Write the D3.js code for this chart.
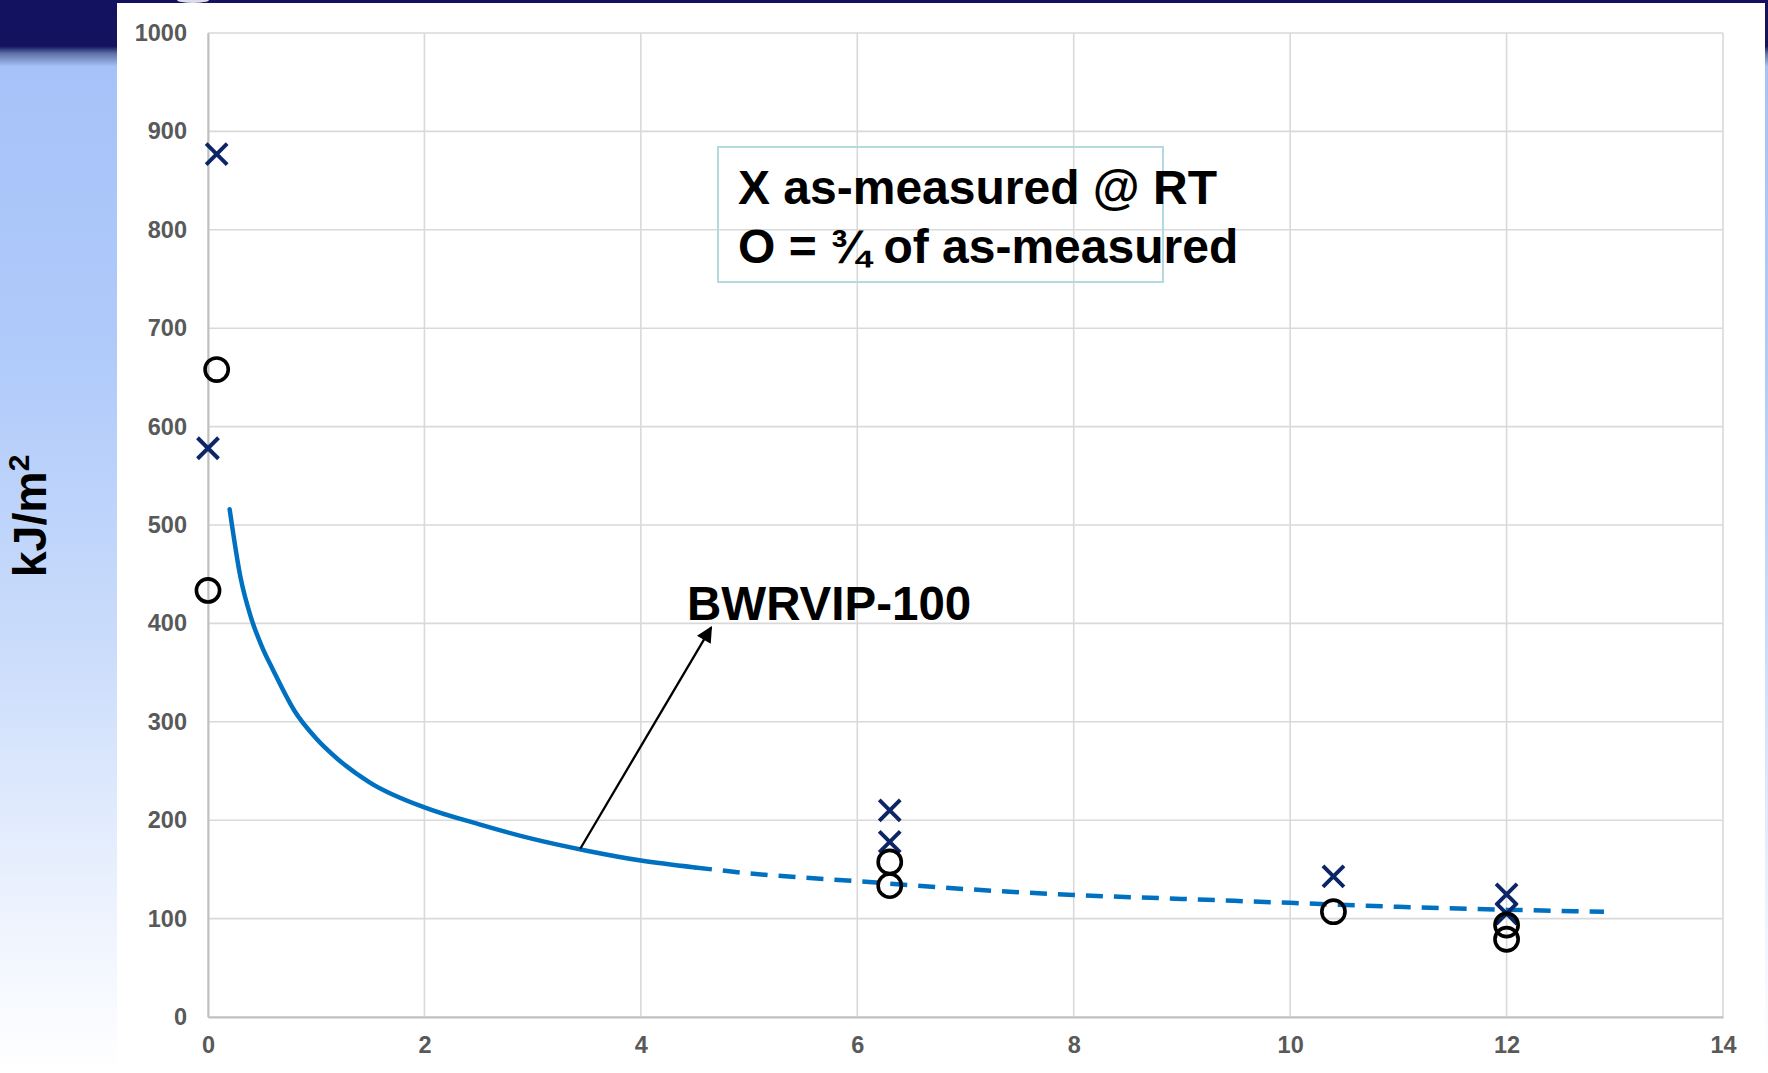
<!DOCTYPE html>
<html>
<head>
<meta charset="utf-8">
<script src="https://cdn.jsdelivr.net/npm/d3@7"></script>
<style>
  html, body { margin: 0; padding: 0; background: #ffffff; }
  svg { display: block; }
  text { font-family: "Liberation Sans", Arial, Helvetica, sans-serif; }
</style>
</head>
<body>
<svg id="chart" width="1768" height="1073"></svg>
<script>
// Axis ticks
const xTicks = [0, 2, 4, 6, 8, 10, 12, 14];
const yTicks = [0, 100, 200, 300, 400, 500, 600, 700, 800, 900, 1000];

// Measured toughness at room temperature (X markers): [neutron fluence, kJ/m2]
const asMeasured = [
  [0.08, 877], [0, 578],
  [6.3, 210], [6.3, 178],
  [10.4, 143],
  [12, 124.5], [12, 105]
];

// Three quarters of the measured values (O markers)
const threeQuarter = [
  [0.08, 658], [0, 433.5],
  [6.3, 157.5], [6.3, 133.5],
  [10.4, 107],
  [12, 93.5], [12, 79]
];

// BWRVIP-100 curve, solid over its fitted range
const curveSolid = [
  [0.2, 516], [0.3, 447], [0.4, 405], [0.5, 376], [0.6, 353], [0.8, 311],
  [1.0, 283], [1.2, 262], [1.5, 238], [2.0, 213], [2.5, 196], [3.0, 181],
  [3.5, 169], [4.0, 159], [4.5, 152]
];

// ...and extrapolated (dashed) beyond it
const curveDashed = [
  [4.5, 152], [5.0, 146], [6.0, 138], [7.0, 130], [8.0, 124], [9.0, 120],
  [10.0, 116], [11.0, 112], [12.0, 109], [12.9, 107]
];

// Callout arrow from the curve to its label
const arrowFrom = [3.44, 171];
const arrowTo = [4.65, 396];

const legendLines = ["X as-measured @ RT", "O = \u00BE of as-measured"];
const curveLabel = "BWRVIP-100";

const W = 1768, H = 1073;
const svg = d3.select("#chart");
const defs = svg.append("defs");

// Slide background: navy band over a pale blue wash that fades to white
const bg = defs.append("linearGradient")
  .attr("id", "slideBg").attr("x1", 0).attr("y1", 0).attr("x2", 0).attr("y2", 1);
[
  [0, "#121260"], [0.043, "#131360"], [0.05, "#5f72a8"], [0.062, "#a6c2f8"],
  [0.33, "#b0cafa"], [0.6, "#cadcfb"], [0.85, "#edf3fe"], [1, "#ffffff"]
].forEach(([o, c]) => bg.append("stop").attr("offset", o).attr("stop-color", c));

svg.append("rect").attr("width", W).attr("height", H).attr("fill", "url(#slideBg)");
svg.append("ellipse").attr("cx", 193).attr("cy", 0).attr("rx", 16).attr("ry", 3)
  .attr("fill", "#dcdcec");
svg.append("rect").attr("x", 117).attr("y", 3).attr("width", 1648).attr("height", H - 3)
  .attr("fill", "#ffffff");

const x = d3.scaleLinear().domain([0, 14]).range([208, 1723]);
const y = d3.scaleLinear().domain([0, 1000]).range([1017, 33]);

// Gridlines
const grid = svg.append("g");
grid.selectAll("line.h").data(yTicks).join("line")
  .attr("x1", x(0)).attr("x2", x(14))
  .attr("y1", d => y(d)).attr("y2", d => y(d))
  .attr("stroke", "#d9d9d9").attr("stroke-width", 1.6);
grid.selectAll("line.v").data(xTicks).join("line")
  .attr("y1", y(0)).attr("y2", y(1000))
  .attr("x1", d => x(d)).attr("x2", d => x(d))
  .attr("stroke", "#d9d9d9").attr("stroke-width", 1.6);

// Axes
const yAxis = svg.append("g").attr("transform", `translate(${x(0)},0)`)
  .call(d3.axisLeft(y).tickValues(yTicks).tickFormat(d3.format("d")).tickSize(0).tickPadding(21));
const xAxis = svg.append("g").attr("transform", `translate(0,${y(0)})`)
  .call(d3.axisBottom(x).tickValues(xTicks).tickFormat(d3.format("d")).tickSize(0).tickPadding(19));
[yAxis, xAxis].forEach(a => {
  a.select(".domain").attr("stroke", "#bfbfbf").attr("stroke-width", 2);
  a.selectAll("text")
    .attr("fill", "#595959")
    .attr("font-size", 23.5)
    .attr("font-weight", "bold")
    .attr("font-family", "'Liberation Sans', Arial, sans-serif");
});

// Y axis title
const yTitle = svg.append("text")
  .attr("transform", "translate(46,516) rotate(-90)")
  .attr("text-anchor", "middle")
  .attr("font-size", 46.5).attr("font-weight", "bold").attr("fill", "#000");
yTitle.append("tspan").text("kJ/m");
yTitle.append("tspan").text("2").attr("font-size", 30).attr("dy", -17);

// BWRVIP-100 curve
const line = d3.line().x(d => x(d[0])).y(d => y(d[1])).curve(d3.curveMonotoneX);
svg.append("path").datum(curveDashed).attr("d", line)
  .attr("fill", "none").attr("stroke", "#0070c0").attr("stroke-width", 4.5)
  .attr("stroke-dasharray", "17 11");
svg.append("path").datum(curveSolid).attr("d", line)
  .attr("fill", "none").attr("stroke", "#0070c0").attr("stroke-width", 4.5)
  .attr("stroke-linecap", "round");

// X markers
const xs = 10.5;
svg.append("g").selectAll("path").data(asMeasured).join("path")
  .attr("d", d => {
    const cx = x(d[0]), cy = y(d[1]);
    return `M${cx - xs},${cy - xs}L${cx + xs},${cy + xs}M${cx - xs},${cy + xs}L${cx + xs},${cy - xs}`;
  })
  .attr("stroke", "#0b2566").attr("stroke-width", 3.9).attr("fill", "none");

// O markers
svg.append("g").selectAll("circle").data(threeQuarter).join("circle")
  .attr("cx", d => x(d[0])).attr("cy", d => y(d[1])).attr("r", 11.6)
  .attr("fill", "none").attr("stroke", "#000").attr("stroke-width", 3.6);

// Callout arrow
defs.append("marker")
  .attr("id", "arrowHead").attr("viewBox", "0 0 10 10")
  .attr("refX", 9).attr("refY", 5)
  .attr("markerUnits", "userSpaceOnUse")
  .attr("markerWidth", 22).attr("markerHeight", 16)
  .attr("orient", "auto")
  .append("path").attr("d", "M0,0L10,5L0,10Z").attr("fill", "#000");
svg.append("line")
  .attr("x1", x(arrowFrom[0])).attr("y1", y(arrowFrom[1]))
  .attr("x2", x(arrowTo[0])).attr("y2", y(arrowTo[1]))
  .attr("stroke", "#000").attr("stroke-width", 2.3)
  .attr("marker-end", "url(#arrowHead)");

svg.append("text").text(curveLabel)
  .attr("x", 687).attr("y", 620)
  .attr("font-size", 47.5).attr("font-weight", "bold").attr("fill", "#000");

// Legend box
svg.append("rect")
  .attr("x", 718).attr("y", 147).attr("width", 445).attr("height", 135)
  .attr("fill", "none").attr("stroke", "#b4dadf").attr("stroke-width", 2);
svg.append("g").selectAll("text").data(legendLines).join("text")
  .text(d => d)
  .attr("x", 738).attr("y", (d, i) => 204 + i * 59)
  .attr("font-size", 48).attr("font-weight", "bold").attr("fill", "#000");
</script>
</body>
</html>
